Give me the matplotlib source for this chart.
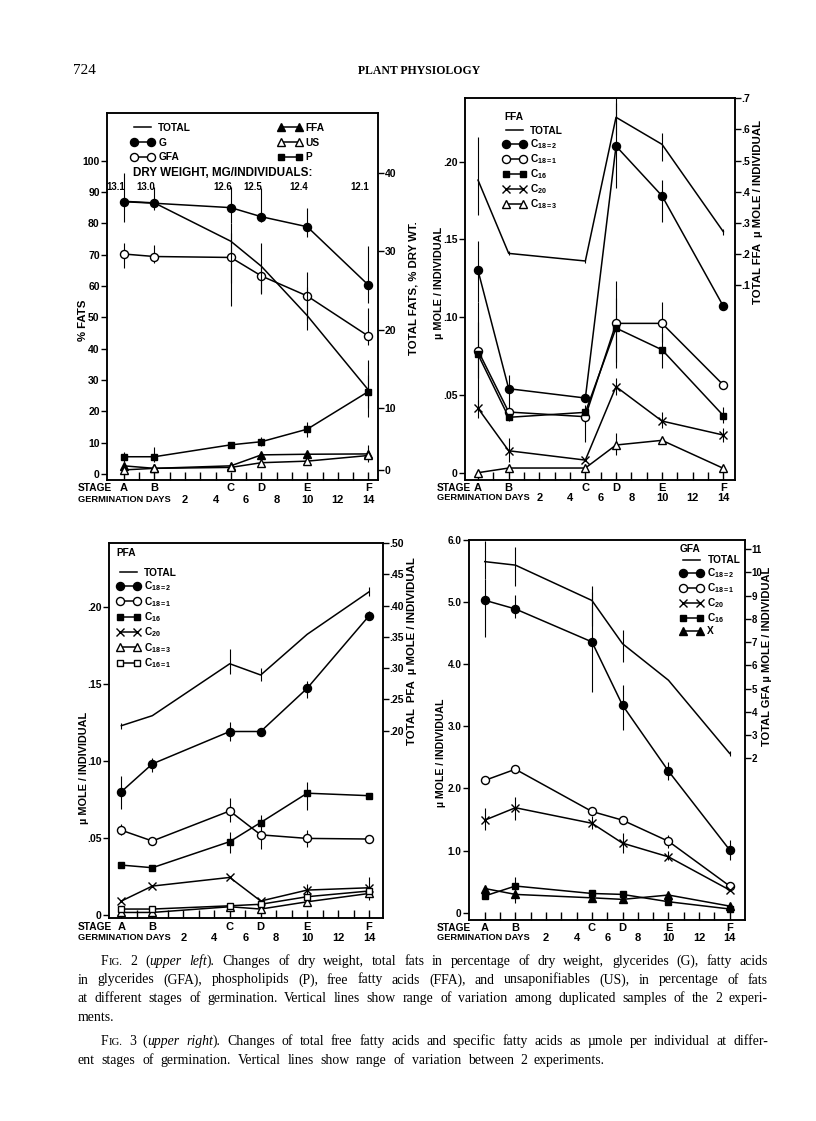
import math
import matplotlib
matplotlib.use('Agg')
import matplotlib.pyplot as plt

nan = float('nan')

# ---------------- data ----------------
stage_letters = ['A', 'B', 'C', 'D', 'E', 'F']
stage_days = [-2, 0, 5, 7, 10, 14]
day_ticks = [2, 4, 6, 8, 10, 12, 14]
dry_weight = ['13.1', '13.0', '12.6', '12.5', '12.4', '12.1']

# Fig. 2 (upper left): % of fats (left axis), total fats % dry wt (right axis)
f2_total = [36.4, 36.2, 31.3, 28.1, 21.8, 12.3]
f2_total_lo = [nan, nan, 23.0, 24.7, 20.0, 8.9]
f2_total_hi = [nan, nan, 33.6, 31.1, 25.4, 16.1]
f2_G = [86.9, 86.4, 85.0, 82.1, 78.9, 60.3]
f2_G_lo = [80.5, 84.3, 80.0, 80.5, 75.7, 54.5]
f2_G_hi = [96.0, 91.7, 91.7, 91.2, 84.8, 72.8]
f2_GFA = [70.2, 69.4, 69.1, 63.2, 56.8, 44.0]
f2_GFA_lo = [65.6, 67.2, 60.9, 57.4, 49.1, 41.2]
f2_GFA_hi = [73.6, 73.1, 76.8, 66.2, 64.6, 52.9]
f2_P = [5.5, 5.5, 9.3, 10.3, 14.3, 26.3]
f2_P_lo = [3.9, 3.9, nan, 8.9, 11.8, 20.9]
f2_P_hi = [7.1, 8.7, nan, 11.9, 16.6, 31.6]
f2_FFA = [2.6, 1.8, 2.6, 6.1, 6.3, 6.4]
f2_FFA_lo = [nan, nan, nan, nan, nan, 3.9]
f2_FFA_hi = [nan, nan, nan, nan, nan, 9.3]
f2_US = [1.3, 1.8, 2.1, 3.6, 4.1, 5.9]

# Fig. 3 (upper right): FFA, umole / individual
f3_total = [0.437, 0.2015, 0.177, 0.639, 0.552, 0.271]
f3_total_lo = [0.325, 0.195, 0.170, 0.582, 0.50, 0.26]
f3_total_hi = [0.577, 0.210, 0.180, 0.684, 0.59, 0.28]
f3_c182 = [0.130, 0.054, 0.048, 0.210, 0.178, 0.107]
f3_c182_lo = [0.110, 0.033, nan, 0.183, 0.161, 0.105]
f3_c182_hi = [0.149, 0.063, nan, 0.241, 0.188, 0.109]
f3_c181 = [0.0785, 0.039, 0.036, 0.096, 0.096, 0.0564]
f3_c181_lo = [0.061, nan, 0.020, 0.0714, 0.084, 0.054]
f3_c181_hi = [0.097, nan, 0.0435, 0.1235, 0.110, 0.059]
f3_c16 = [0.076, 0.0356, 0.0388, 0.093, 0.079, 0.0367]
f3_c16_lo = [0.0435, nan, 0.032, 0.067, 0.067, 0.032]
f3_c16_hi = [0.110, nan, 0.0415, 0.112, 0.090, 0.042]
f3_c20 = [0.0414, 0.0141, 0.0081, 0.0553, 0.0332, 0.0242]
f3_c20_lo = [0.035, 0.007, nan, 0.050, 0.029, 0.020]
f3_c20_hi = [0.0467, 0.022, nan, 0.0607, 0.039, 0.029]
f3_c183 = [0.0, 0.003, 0.003, 0.0178, 0.0208, 0.0028]
f3_c183_lo = [nan, nan, nan, 0.0114, nan, nan]
f3_c183_hi = [nan, nan, nan, 0.0253, nan, nan]

# Lower left: PFA, umole / individual
pfa_total = [0.208, 0.224, 0.307, 0.289, 0.354, 0.422]
pfa_total_lo = [0.203, nan, 0.29, 0.28, nan, 0.415]
pfa_total_hi = [0.212, nan, 0.33, 0.30, nan, 0.43]
pfa_c182 = [0.080, 0.098, 0.119, 0.119, 0.147, 0.194]
pfa_c182_lo = [0.069, 0.093, 0.113, nan, 0.141, 0.191]
pfa_c182_hi = [0.090, 0.102, 0.125, nan, 0.152, 0.197]
pfa_c181 = [0.055, 0.048, 0.0675, 0.052, 0.0497, 0.0493]
pfa_c181_lo = [0.052, nan, 0.0605, 0.043, 0.044, nan]
pfa_c181_hi = [0.059, nan, 0.0757, 0.058, 0.055, nan]
pfa_c16 = [0.0324, 0.0307, 0.0476, 0.060, 0.079, 0.0774]
pfa_c16_lo = [nan, nan, 0.040, 0.057, 0.068, nan]
pfa_c16_hi = [nan, nan, 0.054, 0.065, 0.0865, nan]
pfa_c20 = [0.0091, 0.0188, 0.0244, 0.0091, 0.0162, 0.0177]
pfa_c20_lo = [nan, nan, nan, nan, 0.013, 0.010]
pfa_c20_hi = [nan, nan, nan, nan, 0.020, 0.025]
pfa_c183 = [0.0017, 0.0017, 0.0054, 0.0039, 0.0086, 0.014]
pfa_c161 = [0.0039, 0.0039, 0.006, 0.007, 0.0119, 0.0156]

# Lower right: GFA, umole / individual
gfa_total = [10.46, 10.31, 8.79, 6.93, 5.36, 2.21]
gfa_total_lo = [9.7, 9.43, 7.71, 6.14, nan, 2.1]
gfa_total_hi = [11.36, 11.07, 9.43, 7.5, nan, 2.3]
gfa_c182 = [5.03, 4.89, 4.36, 3.34, 2.28, 1.01]
gfa_c182_lo = [4.44, 4.74, 3.56, 2.94, 2.14, 0.85]
gfa_c182_hi = [5.38, 5.11, 5.17, 3.67, 2.43, 1.17]
gfa_c181 = [2.13, 2.31, 1.63, 1.49, 1.15, 0.43]
gfa_c181_lo = [nan, nan, nan, nan, 1.05, nan]
gfa_c181_hi = [nan, nan, nan, nan, 1.25, nan]
gfa_c20 = [1.49, 1.69, 1.44, 1.12, 0.90, 0.365]
gfa_c20_lo = [1.33, 1.49, 1.35, 0.96, 0.85, nan]
gfa_c20_hi = [1.68, 1.87, 1.55, 1.28, 1.00, nan]
gfa_c16 = [0.27, 0.43, 0.31, 0.295, 0.177, 0.06]
gfa_x = [0.39, 0.295, 0.24, 0.215, 0.285, 0.107]
gfa_x_lo = [nan, 0.15, nan, nan, nan, nan]
gfa_x_hi = [nan, 0.58, nan, nan, nan, nan]

# ---------------- style ----------------
W, H = 816, 1121
LAB = 'Liberation Sans'
SERIF = 'Liberation Serif'
plt.rcParams.update({
    'font.family': [LAB, 'DejaVu Sans'],
    'font.weight': 'bold',
    'mathtext.fontset': 'custom',
    'mathtext.rm': LAB + ':bold',
    'mathtext.it': LAB + ':bold',
    'mathtext.bf': LAB + ':bold',
    'axes.linewidth': 1.1,
})
FS = 8.0      # stage letters, day numbers
FT = 7.5      # tick labels
FL = 7.3      # legend
LW = 1.1
EB = 0.8

fig = plt.figure(figsize=(W / 100, H / 100), dpi=100)
renderer = fig.canvas.get_renderer()


def px_axes(l, t, r, b):
    return fig.add_axes([l / W, 1 - b / H, (r - l) / W, (b - t) / H])


def ftext(x, y, s, **kw):
    return fig.text(x / W, 1 - y / H, s, **kw)


def fit(t, target, maxfs=99):
    bb = t.get_window_extent(renderer)
    rot = t.get_rotation() % 180
    cur = bb.height if abs(rot - 90) < 1 else bb.width
    if cur > 0:
        t.set_fontsize(min(maxfs, t.get_fontsize() * target / cur))
    return t


MK = {
    'fcircle': dict(marker='o', mfc='black', ms=5.8),
    'ocircle': dict(marker='o', mfc='white', ms=5.8),
    'fsquare': dict(marker='s', mfc='black', ms=5.0),
    'osquare': dict(marker='s', mfc='white', ms=5.0),
    'ftri': dict(marker='^', mfc='black', ms=6.0),
    'otri': dict(marker='^', mfc='white', ms=6.0),
    'x': dict(marker='x', mfc='black', ms=6.0),
    'none': dict(marker='None'),
}


def series(ax, y, kind, lo=None, hi=None):
    line, = ax.plot(stage_days, y, color='black', lw=LW, mec='black', mew=1.0,
                    zorder=3, **MK[kind])
    if lo is not None:
        xs, a, b = [], [], []
        for d, l, h in zip(stage_days, lo, hi):
            if not (math.isnan(l) or math.isnan(h)):
                xs.append(d); a.append(l); b.append(h)
        if xs:
            ax.vlines(xs, a, b, color='black', lw=EB, zorder=2)
    return line


def setup(ax, axr, xlim, ylim, yticks, ylabels, rylim, rticks, rlabels, rfs=FT, lfs=FT):
    ax.set_xlim(*xlim)
    ax.set_ylim(*ylim)
    axr.set_ylim(*rylim)
    ax.set_xticks(range(-2, 15))
    ax.set_xticklabels([])
    ax.tick_params(axis='x', direction='in', length=6, width=1.0, top=False)
    ax.set_yticks(yticks)
    ax.set_yticklabels(ylabels, fontsize=lfs)
    ax.tick_params(axis='y', direction='out', length=4.5, width=1.0, pad=0.8)
    axr.set_yticks(rticks)
    axr.set_yticklabels(rlabels, fontsize=rfs)
    axr.tick_params(axis='y', direction='out', length=4, width=1.0, pad=0.6)
    for a in (ax, axr):
        for sp in a.spines.values():
            sp.set_linewidth(1.1)


def stage_rows(ax, sdy, ddy, xl, ys, yd):
    for d, s in zip(stage_days, stage_letters):
        ax.annotate(s, xy=(d, 0), xycoords=('data', 'axes fraction'), xytext=(0, -sdy),
                    textcoords='offset pixels', ha='center', va='center', fontsize=FS)
    for d in day_ticks:
        ax.annotate(str(d), xy=(d, 0), xycoords=('data', 'axes fraction'), xytext=(0, -ddy),
                    textcoords='offset pixels', ha='center', va='center', fontsize=FS)
    fit(ftext(xl, ys, 'STAGE', ha='left', va='center', fontsize=FS), 34)
    fit(ftext(xl, yd, 'GERMINATION DAYS', ha='left', va='center', fontsize=FS), 93)


def ylab(x, y, s, length, maxfs=8.2):
    return fit(ftext(x, y, s, rotation=90, ha='center', va='center', fontsize=FS), length, maxfs)


def legend(ax, handles, labels, x, y, **kw):
    opts = dict(loc='upper left', bbox_to_anchor=(x / W, 1 - y / H), bbox_transform=fig.transFigure,
                frameon=False, prop={'size': FL, 'weight': 'bold', 'family': LAB},
                handlelength=2.3, handletextpad=0.4, labelspacing=0.35, borderpad=0,
                borderaxespad=0, numpoints=2)
    opts.update(kw)
    return ax.legend(handles, labels, **opts)


TITLE = {'size': FL, 'weight': 'bold', 'family': LAB}

# ---------------- Panel 1: Fig. 2 ----------------
ax1 = px_axes(107, 113, 378, 480)
ax1r = ax1.twinx()
setup(ax1, ax1r, (-3.1, 14.63), (-1.92, 115.2), list(range(0, 101, 10)),
      [str(v) for v in range(0, 101, 10)],
      (0.80, 47.68), [2.1, 10, 20, 30, 40], ['0', '10', '20', '30', '40'])
hT1 = series(ax1r, f2_total, 'none', f2_total_lo, f2_total_hi)
hG = series(ax1, f2_G, 'fcircle', f2_G_lo, f2_G_hi)
hGFA = series(ax1, f2_GFA, 'ocircle', f2_GFA_lo, f2_GFA_hi)
hP = series(ax1, f2_P, 'fsquare', f2_P_lo, f2_P_hi)
hFFA = series(ax1, f2_FFA, 'ftri', f2_FFA_lo, f2_FFA_hi)
hUS = series(ax1, f2_US, 'otri')
legend(ax1r, [hT1, hG, hGFA, hFFA, hUS, hP], ['TOTAL', 'G', 'GFA', 'FFA', 'US', 'P'],
       131, 123, ncol=2, columnspacing=8.6, labelspacing=0.45)
fit(ftext(133, 173, 'DRY WEIGHT, MG/INDIVIDUALS:', ha='left', va='center', fontsize=FS), 180)
for d, s in zip(stage_days, dry_weight):
    ax1.annotate(s, xy=(d, 1), xycoords=('data', 'axes fraction'), xytext=(1, -(187 - 113)),
                 textcoords='offset pixels', ha='right', va='center', fontsize=6.9)
stage_rows(ax1, 8, 20, 78, 488, 500)
ylab(83, 320, '% FATS', 62)
ylab(413, 288, 'TOTAL FATS, % DRY WT.', 157)

# ---------------- Panel 2: Fig. 3 FFA ----------------
ax2 = px_axes(465, 98, 735, 480)
ax2r = ax2.twinx()
setup(ax2, ax2r, (-2.85, 14.76), (-0.0047, 0.2409), [0, 0.05, 0.10, 0.15, 0.20],
      ['0', '.05', '.10', '.15', '.20'],
      (-0.527, 0.701), [0.1, 0.2, 0.3, 0.4, 0.5, 0.6, 0.7], ['.1', '.2', '.3', '.4', '.5', '.6', '.7'])
hT2 = series(ax2r, f3_total, 'none', f3_total_lo, f3_total_hi)
h2a = series(ax2, f3_c182, 'fcircle', f3_c182_lo, f3_c182_hi)
h2b = series(ax2, f3_c181, 'ocircle', f3_c181_lo, f3_c181_hi)
h2c = series(ax2, f3_c16, 'fsquare', f3_c16_lo, f3_c16_hi)
h2d = series(ax2, f3_c20, 'x', f3_c20_lo, f3_c20_hi)
h2e = series(ax2, f3_c183, 'otri', f3_c183_lo, f3_c183_hi)
ftext(504, 117, 'FFA', ha='left', va='center', fontsize=FL)
legend(ax2r, [hT2, h2a, h2b, h2c, h2d, h2e],
       ['TOTAL', 'C$_{18=2}$', 'C$_{18=1}$', 'C$_{16}$', 'C$_{20}$', 'C$_{18=3}$'],
       503, 126, labelspacing=0.12)
stage_rows(ax2, 8, 18, 437, 488, 498)
ylab(439, 283, 'µ MOLE / INDIVIDUAL', 130, 7.8)
ylab(758, 212, 'TOTAL FFA  µ MOLE / INDIVIDUAL', 207)

# ---------------- Panel 3: PFA ----------------
ax3 = px_axes(109, 543, 383, 918)
ax3r = ax3.twinx()
setup(ax3, ax3r, (-2.8, 14.9), (-0.0019, 0.2412), [0, 0.05, 0.10, 0.15, 0.20],
      ['0', '.05', '.10', '.15', '.20'],
      (-0.0994, 0.498), [0.20, 0.25, 0.30, 0.35, 0.40, 0.45, 0.50],
      ['.20', '.25', '.30', '.35', '.40', '.45', '.50'])
hT3 = series(ax3r, pfa_total, 'none', pfa_total_lo, pfa_total_hi)
h3a = series(ax3, pfa_c182, 'fcircle', pfa_c182_lo, pfa_c182_hi)
h3b = series(ax3, pfa_c181, 'ocircle', pfa_c181_lo, pfa_c181_hi)
h3c = series(ax3, pfa_c16, 'fsquare', pfa_c16_lo, pfa_c16_hi)
h3d = series(ax3, pfa_c20, 'x', pfa_c20_lo, pfa_c20_hi)
h3e = series(ax3, pfa_c183, 'otri')
h3f = series(ax3, pfa_c161, 'osquare')
ftext(116, 553, 'PFA', ha='left', va='center', fontsize=FL)
legend(ax3r, [hT3, h3a, h3b, h3c, h3d, h3e, h3f],
       ['TOTAL', 'C$_{18=2}$', 'C$_{18=1}$', 'C$_{16}$', 'C$_{20}$', 'C$_{18=3}$', 'C$_{16=1}$'],
       117, 568, labelspacing=0.15)
stage_rows(ax3, 9, 20, 78, 927, 938)
ylab(84, 768, 'µ MOLE / INDIVIDUAL', 150, 7.8)
ylab(412, 651, 'TOTAL  PFA  µ MOLE / INDIVIDUAL', 227)

# ---------------- Panel 4: GFA ----------------
ax4 = px_axes(469, 540, 745, 920)
ax4r = ax4.twinx()
setup(ax4, ax4r, (-3.03, 15.0), (-0.117, 6.0), [0, 1, 2, 3, 4, 5, 6],
      ['0', '1.0', '2.0', '3.0', '4.0', '5.0', '6.0'],
      (-4.95, 11.39), list(range(2, 12)), [str(v) for v in range(2, 12)], rfs=7.0, lfs=7.2)
hT4 = series(ax4r, gfa_total, 'none', gfa_total_lo, gfa_total_hi)
h4a = series(ax4, gfa_c182, 'fcircle', gfa_c182_lo, gfa_c182_hi)
h4b = series(ax4, gfa_c181, 'ocircle', gfa_c181_lo, gfa_c181_hi)
h4c = series(ax4, gfa_c20, 'x', gfa_c20_lo, gfa_c20_hi)
h4d = series(ax4, gfa_c16, 'fsquare')
h4e = series(ax4, gfa_x, 'ftri', gfa_x_lo, gfa_x_hi)
legend(ax4r, [hT4, h4a, h4b, h4c, h4d, h4e],
       ['TOTAL', 'C$_{18=2}$', 'C$_{18=1}$', 'C$_{20}$', 'C$_{16}$', 'X'],
       680, 544, title='GFA', alignment='left', labelspacing=0.12,
       title_fontproperties=TITLE)
stage_rows(ax4, 8, 18, 437, 928, 938)
ylab(441, 753, 'µ MOLE / INDIVIDUAL', 143, 7.6)
ylab(767, 656, 'TOTAL GFA µ MOLE / INDIVIDUAL', 226, 8.0)

# ---------------- header & captions ----------------
ftext(73, 71, '724', ha='left', va='center', fontsize=11, family=SERIF, weight='normal')
ftext(419, 71, 'PLANT PHYSIOLOGY', ha='center', va='center', fontsize=8.5, family=SERIF,
      weight='bold')


def rich_line(x0, yb, text, size, x1=None):
    italic = False
    small = False
    groups = []
    for w in text.split(' '):
        segs = []
        cur = ''
        for ch in w:
            if ch in '|~':
                if cur:
                    segs.append((cur, italic, small)); cur = ''
                if ch == '|':
                    italic = not italic
                else:
                    small = not small
            else:
                cur += ch
        if cur:
            segs.append((cur, italic, small))
        groups.append(segs)
    objs = []
    for segs in groups:
        g = []
        for s, it, sm in segs:
            t = fig.text(0, 0, s, fontsize=size * (0.78 if sm else 1.0), family=SERIF,
                         weight='normal', style='italic' if it else 'normal',
                         va='baseline', ha='left')
            g.append((t, t.get_window_extent(renderer).width))
        objs.append(g)
    wsum = sum(w for g in objs for _, w in g)
    n = len(objs)
    if x1 is not None and n > 1:
        gap = (x1 - x0 - wsum) / (n - 1)
    else:
        gap = size * 100 / 72 * 0.27
    x = x0
    for g in objs:
        for t, w in g:
            t.set_position((x / W, 1 - yb / H))
            x += w
        x += gap


CS = 9.9
rich_line(101, 965, 'F~IG.~ 2 (|upper left|). Changes of dry weight, total fats in percentage of dry weight, glycerides (G), fatty acids', CS, 768)
rich_line(78, 983.5, 'in glycerides (GFA), phospholipids (P), free fatty acids (FFA), and unsaponifiables (US), in percentage of fats', CS, 768)
rich_line(78, 1002, 'at different stages of germination. Vertical lines show range of variation among duplicated samples of the 2 experi-', CS, 768)
rich_line(78, 1021, 'ments.', CS)
rich_line(101, 1045, 'F~IG.~ 3 (|upper right|). Changes of total free fatty acids and specific fatty acids as µmole per individual at differ-', CS, 768)
rich_line(78, 1064, 'ent stages of germination. Vertical lines show range of variation between 2 experiments.', CS, 605)

fig.savefig('out.png', dpi=100)
